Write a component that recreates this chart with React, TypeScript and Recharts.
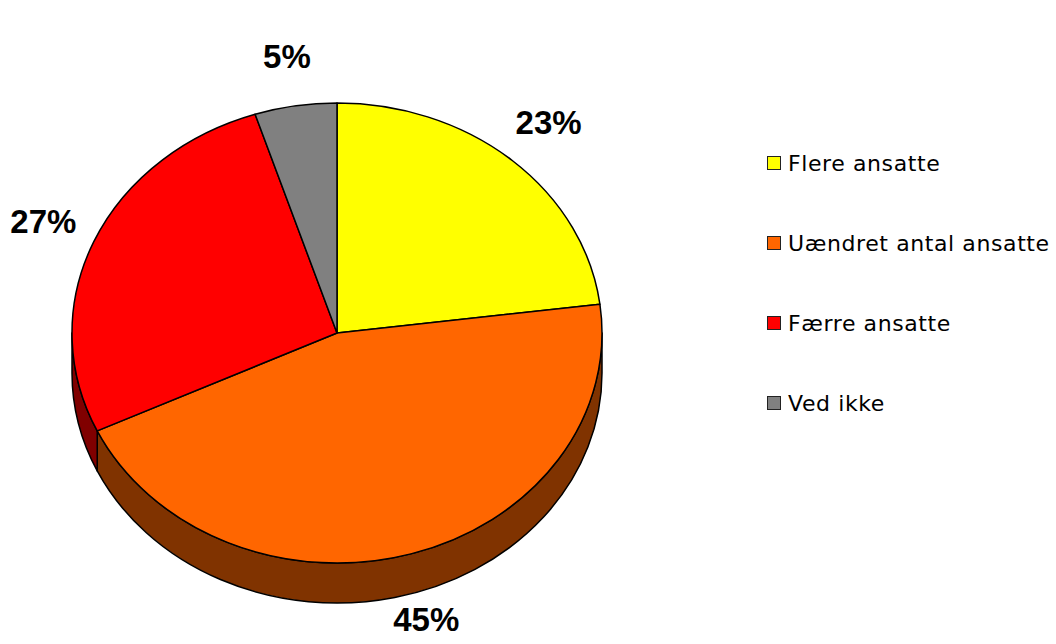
import React from "react";
import { PieChart, Pie, Cell, Legend } from "recharts";

const categories = ["Flere ansatte", "Uændret antal ansatte", "Færre ansatte", "Ved ikke"];
const shares = [23, 45, 27, 5];

const topColors = ["#ffff00", "#ff6600", "#ff0000", "#808080"];
const sideColors = ["#808000", "#803300", "#800000", "#404040"];

const data = categories.map((name, i) => ({ name, value: shares[i] }));

// 3D look: circle squashed into an ellipse, plus a dark rim underneath
const TILT = 230 / 265;
const DEPTH = 40;
const RAD = Math.PI / 180;

function pt(cx: number, cy: number, rx: number, ry: number, a: number, dy = 0) {
  return [cx + rx * Math.cos(a * RAD), cy - ry * Math.sin(a * RAD) + dy];
}

function TopSlice(props: any) {
  const { cx, cy, outerRadius, startAngle, endAngle, fill } = props;
  const rx = outerRadius;
  const ry = outerRadius * TILT;
  const hi = Math.max(startAngle, endAngle);
  const lo = Math.min(startAngle, endAngle);
  const [x1, y1] = pt(cx, cy, rx, ry, hi);
  const [x2, y2] = pt(cx, cy, rx, ry, lo);
  const large = hi - lo > 180 ? 1 : 0;
  const d = `M${cx},${cy} L${x1},${y1} A${rx},${ry} 0 ${large} 1 ${x2},${y2} Z`;
  return <path d={d} fill={fill} stroke="#000" strokeWidth={1.5} strokeLinejoin="round" />;
}

function SideSlice(props: any) {
  const { cx, cy, outerRadius, startAngle, endAngle, fill } = props;
  const rx = outerRadius;
  const ry = outerRadius * TILT;
  const hi = Math.min(Math.max(startAngle, endAngle), 0);
  const lo = Math.max(Math.min(startAngle, endAngle), -180);
  if (hi <= lo) return <g />;
  const [x1, y1] = pt(cx, cy, rx, ry, hi);
  const [x2, y2] = pt(cx, cy, rx, ry, lo);
  const d =
    `M${x1},${y1} A${rx},${ry} 0 0 1 ${x2},${y2} L${x2},${y2 + DEPTH} ` +
    `A${rx},${ry} 0 0 0 ${x1},${y1 + DEPTH} Z`;
  return <path d={d} fill={fill} stroke="#000" strokeWidth={1.5} strokeLinejoin="round" />;
}

const renderLabel = (p: any) => {
  const s = Math.sin(p.midAngle * RAD);
  const c = Math.cos(p.midAngle * RAD);
  const x = p.cx + (p.outerRadius + 55) * c;
  const y = p.cy - (p.outerRadius * TILT + 50) * s + (s < 0 ? -s * DEPTH * 0.45 : 0);
  const v = p.payload?.value ?? p.value;
  return (
    <text
      x={x}
      y={y}
      textAnchor="middle"
      dominantBaseline="central"
      fill="#000"
      fontFamily="'Liberation Sans', Arial, sans-serif"
      fontWeight="bold"
      fontSize={33}
    >
      {`${v}%`}
    </text>
  );
};

const renderLegend = (props: any) => {
  const items = (props.payload || [])
    .filter((it: any) => it.type !== "none")
    .slice()
    .sort((a: any, b: any) => categories.indexOf(a.value) - categories.indexOf(b.value));
  return (
    <div style={{ fontFamily: "'DejaVu Sans', Verdana, sans-serif", fontSize: 22, letterSpacing: 0.6 }}>
      {items.map((it: any, i: number) => (
        <div key={i} style={{ height: 80, display: "flex", alignItems: "center" }}>
          <span
            style={{
              display: "inline-block",
              width: 12,
              height: 12,
              border: "1px solid #222",
              background: it.color,
              marginRight: 7,
            }}
          />
          <span style={{ color: "#000" }}>{it.value}</span>
        </div>
      ))}
    </div>
  );
};

export default function App() {
  return (
    <div style={{ position: "absolute", left: 0, top: 0, background: "#fff" }}>
      <PieChart width={1056} height={644} margin={{ top: 0, right: 0, bottom: 0, left: 0 }}>
        <Pie
          data={data}
          dataKey="value"
          nameKey="name"
          cx={337}
          cy={333}
          outerRadius={265}
          startAngle={90}
          endAngle={-270}
          legendType="none"
          shape={SideSlice}
          activeShape={SideSlice}
          inactiveShape={SideSlice}
          isAnimationActive={false}
        >
          {data.map((d, i) => (
            <Cell key={d.name} fill={sideColors[i]} />
          ))}
        </Pie>
        <Pie
          data={data}
          dataKey="value"
          nameKey="name"
          cx={337}
          cy={333}
          outerRadius={265}
          startAngle={90}
          endAngle={-270}
          legendType="square"
          shape={TopSlice}
          activeShape={TopSlice}
          inactiveShape={TopSlice}
          label={renderLabel}
          labelLine={false}
          isAnimationActive={false}
        >
          {data.map((d, i) => (
            <Cell key={d.name} fill={topColors[i]} />
          ))}
        </Pie>
        <Legend
          layout="vertical"
          content={renderLegend}
          wrapperStyle={{ left: 767, top: 123, width: 289, bottom: "auto", right: "auto" }}
        />
      </PieChart>
    </div>
  );
}
